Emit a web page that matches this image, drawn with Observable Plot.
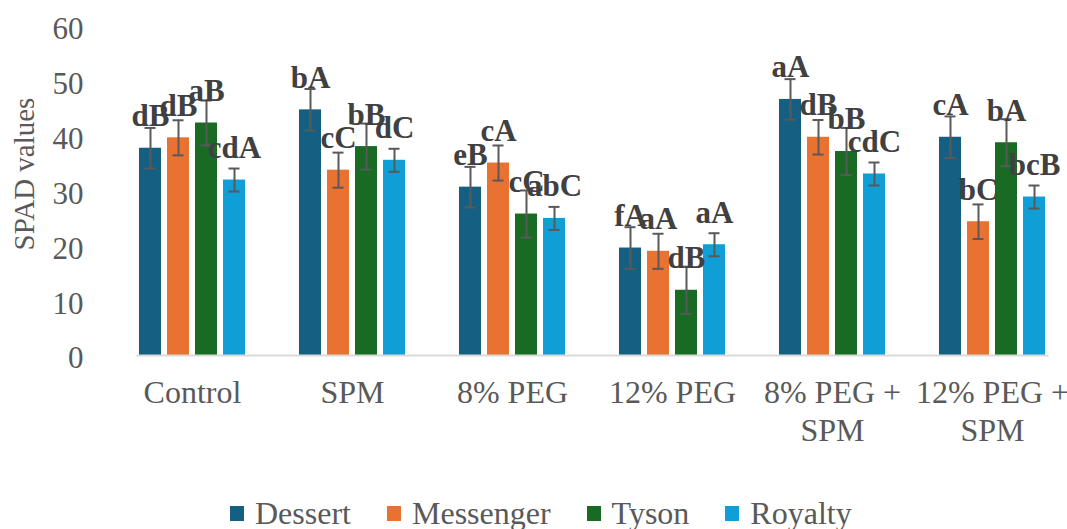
<!DOCTYPE html>
<html>
<head>
<meta charset="utf-8">
<script src="https://cdn.jsdelivr.net/npm/d3@7"></script>
<script src="https://cdn.jsdelivr.net/npm/@observablehq/plot@0.6"></script>
<style>
  html, body { margin: 0; padding: 0; background: #fff; overflow: hidden; }
  body { width: 1067px; height: 529px; position: relative; font-family: "Liberation Serif", "Times New Roman", serif; }
  #legend { position: absolute; top: 496px; left: 230px; display: flex; align-items: center; gap: 36px; color: #595959; font-size: 32px; line-height: 34px; }
  #legend .item { display: flex; align-items: center; }
  #legend .sw { width: 14px; height: 15px; margin-right: 11px; }
</style>
</head>
<body>
<div id="chart"></div>
<div id="legend"></div>
<script>
const categories = ["Control", "SPM", "8% PEG", "12% PEG", "8% PEG + SPM", "12% PEG + SPM"];
const tickLabels = ["Control", "SPM", "8% PEG", "12% PEG", "8% PEG +\nSPM", "12% PEG +\nSPM"];
const varieties = ["Dessert", "Messenger", "Tyson", "Royalty"];
const colors = ["#156082", "#E97132", "#196B24", "#0F9ED5"];
const yTicks = [0, 10, 20, 30, 40, 50, 60];
const yTitle = "SPAD values";

const dessert   = [37.8, 44.8, 30.7, 19.6, 46.7, 39.8];
const messenger = [39.7, 33.8, 35.1, 19.0, 39.8, 24.4];
const tyson     = [42.4, 38.1, 25.8, 11.9, 37.2, 38.8];
const royalty   = [32.0, 35.6, 25.0, 20.2, 33.1, 28.9];

const dessertErr   = [3.7, 3.8, 3.7, 3.8, 3.7, 3.8];
const messengerErr = [3.2, 3.2, 3.2, 3.2, 3.15, 3.15];
const tysonErr     = [4.1, 4.2, 4.3, 4.3, 4.3, 4.3];
const royaltyErr   = [2.1, 2.1, 2.1, 2.1, 2.1, 2.1];

const dessertLetters   = ["dB", "bA", "eB", "fA", "aA", "cA"];
const messengerLetters = ["dB", "cC", "cA", "aA", "dB", "bC"];
const tysonLetters     = ["aB", "bB", "cC", "dB", "bB", "bA"];
const royaltyLetters   = ["cdA", "dC", "abC", "aA", "cdC", "bcB"];

const seriesValues = [dessert, messenger, tyson, royalty];
const seriesErr = [dessertErr, messengerErr, tysonErr, royaltyErr];
const seriesLetters = [dessertLetters, messengerLetters, tysonLetters, royaltyLetters];

const data = [];
categories.forEach((c, i) => {
  varieties.forEach((v, j) => {
    data.push({treatment: c, variety: v, value: seriesValues[j][i], err: seriesErr[j][i], letter: seriesLetters[j][i]});
  });
});

const font = "Liberation Serif";

const chart = Plot.plot({
  width: 1067,
  height: 460,
  marginLeft: 112,
  marginRight: -5,
  marginTop: 26,
  marginBottom: 105,
  style: {fontFamily: font, background: "white", color: "#595959", overflow: "hidden"},
  fx: {domain: categories, paddingInner: 0.3125, paddingOuter: 0.15625, label: null},
  x: {domain: varieties, paddingInner: 0.2, paddingOuter: 0, axis: null},
  y: {domain: [0, 60], label: null},
  color: {domain: varieties, range: colors},
  marks: [
    Plot.barY(data, {fx: "treatment", x: "variety", y: "value", fill: "variety"}),
    Plot.frame({anchor: "bottom", facet: "super", stroke: "#d9d9d9", strokeWidth: 2}),
    Plot.ruleX(data, {fx: "treatment", x: "variety", y1: d => d.value - d.err, y2: d => d.value + d.err, stroke: "#595959", strokeWidth: 2}),
    Plot.tickY(data, {fx: "treatment", x: "variety", y: d => d.value + d.err, stroke: "#595959", strokeWidth: 2, insetLeft: 5.5, insetRight: 5.5}),
    Plot.tickY(data, {fx: "treatment", x: "variety", y: d => d.value - d.err, stroke: "#595959", strokeWidth: 2, insetLeft: 5.5, insetRight: 5.5}),
    Plot.text(data, {fx: "treatment", x: "variety", y: "value", text: "letter", dy: -32, fontWeight: "bold", fontSize: 31, fill: "#404040", fontFamily: font}),
    Plot.axisY({ticks: yTicks, tickSize: 0, tickPadding: 54, fontSize: 31, fill: "#595959", dy: 3, label: null}),
    Plot.axisFx({anchor: "bottom", tickSize: 0, tickPadding: 21, fontSize: 32, fill: "#595959", lineHeight: 1.18, label: null,
      tickFormat: d => tickLabels[categories.indexOf(d)]}),
    Plot.text([yTitle], {fx: [categories[0]], text: d => d, frameAnchor: "left", textAnchor: "middle", rotate: -90, dx: -113, dy: -17, fontSize: 29, fill: "#595959"})
  ]
});
document.getElementById("chart").appendChild(chart);

const legend = d3.select("#legend");
varieties.forEach((v, j) => {
  const item = legend.append("div").attr("class", "item");
  item.append("div").attr("class", "sw").style("background", colors[j]);
  item.append("span").text(v);
});
</script>
</body>
</html>
